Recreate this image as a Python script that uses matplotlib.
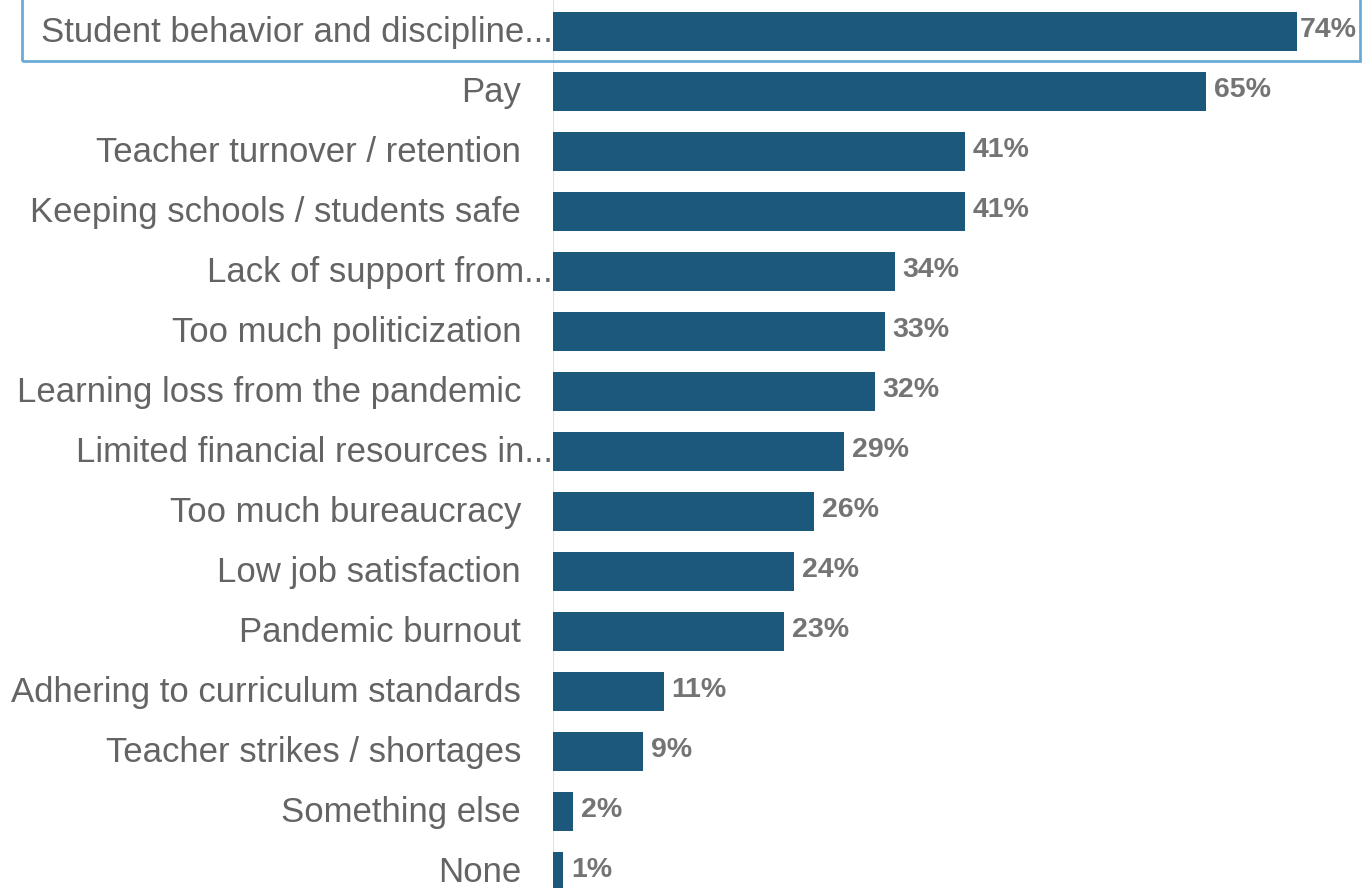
import matplotlib
matplotlib.use("Agg")
import matplotlib.pyplot as plt
from matplotlib.patches import Rectangle

categories = [
    "Student behavior and discipline...",
    "Pay",
    "Teacher turnover / retention",
    "Keeping schools / students safe",
    "Lack of support from...",
    "Too much politicization",
    "Learning loss from the pandemic",
    "Limited financial resources in...",
    "Too much bureaucracy",
    "Low job satisfaction",
    "Pandemic burnout",
    "Adhering to curriculum standards",
    "Teacher strikes / shortages",
    "Something else",
    "None",
]
values = [74, 65, 41, 41, 34, 33, 32, 29, 26, 24, 23, 11, 9, 2, 1]
value_labels = [f"{v}%" for v in values]

W, H = 1365, 888
fig = plt.figure(figsize=(W / 100, H / 100), dpi=100)
ax_left = 553 / W
ax = fig.add_axes([ax_left, 0, 1 - ax_left, 1])

px_per_pct = 10.05
ax.set_xlim(0, (W - 553) / px_per_pct)
spacing = 60.0
ax.set_ylim((H - 31) / spacing, -31 / spacing)

bar_color = "#1c587c"
ypos = list(range(len(categories)))
ax.barh(ypos, values, height=0.65, color=bar_color, zorder=2)

ax.axvline(0, color="#d6e6f2", lw=1.5, zorder=1)

for y, v, lab in zip(ypos, values, value_labels):
    off = 0.3 if y == 0 else 0.8
    ax.text(v + off, y + 0.1, lab, ha="left", va="baseline", fontsize=20.5,
            color="#747474", family="Liberation Sans", fontweight="bold")

for y, cat in zip(ypos, categories):
    if cat.endswith("..."):
        xr = -0.05
    else:
        xr = -32 / px_per_pct
    ax.text(xr, y + 0.19, cat, ha="right", va="baseline", fontsize=25,
            color="#646464", family="Liberation Sans", clip_on=False)

ax.axis("off")

# highlight box around first row
fig.patches.append(Rectangle((22 / W, (H - 61) / H), (1360 - 22) / W, 70 / H,
                             transform=fig.transFigure, fill=False,
                             edgecolor="#6aaad8", lw=2, zorder=5))

fig.savefig("out.png", dpi=100, facecolor="white")
